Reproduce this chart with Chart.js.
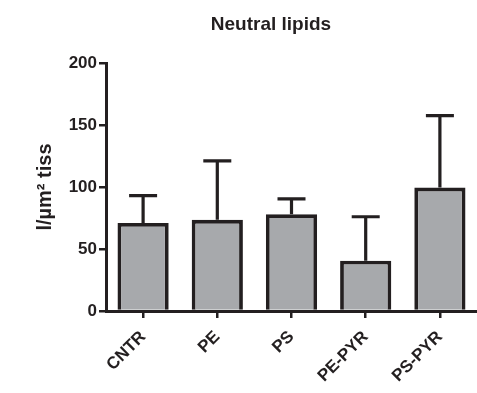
<!DOCTYPE html>
<html>
<head>
<meta charset="utf-8">
<script src="https://cdn.jsdelivr.net/npm/chart.js@4.4.1/dist/chart.umd.min.js"></script>
<style>
  html, body { margin: 0; padding: 0; background: #fff; }
  #wrap { width: 477px; height: 393px; }
</style>
</head>
<body>
<div id="wrap"><canvas id="c" width="477" height="393"></canvas></div>
<script>
const categories = ['CNTR', 'PE', 'PS', 'PE-PYR', 'PS-PYR'];
const means = [71, 73.5, 78, 40.5, 99.5];
const upperErrors = [22, 47.5, 12.5, 35.5, 58];
const yTicks = [0, 50, 100, 150, 200];

const INK = '#231f20';
const FONT = "'Liberation Sans', Arial, sans-serif";

// Upward-only error bars with a cap, drawn from each bar's mean
const errorBars = {
  id: 'errorBars',
  beforeDatasetsDraw(chart) {
    const ctx = chart.ctx;
    const x = chart.scales.x, y = chart.scales.y;
    ctx.save();
    ctx.strokeStyle = INK;
    ctx.lineWidth = 3.2;
    ctx.lineCap = 'butt';
    means.forEach((m, i) => {
      const cx = x.getPixelForValue(i);
      const y0 = y.getPixelForValue(m);
      const y1 = y.getPixelForValue(m + upperErrors[i]);
      ctx.beginPath();
      ctx.moveTo(cx, y0);
      ctx.lineTo(cx, y1);
      ctx.moveTo(cx - 14, y1);
      ctx.lineTo(cx + 14, y1);
      ctx.stroke();
    });
    ctx.restore();
  }
};

// Chart heading
const heading = {
  id: 'heading',
  afterDraw(chart) {
    const ctx = chart.ctx;
    ctx.save();
    ctx.fillStyle = INK;
    ctx.font = 'bold 19px ' + FONT;
    ctx.textAlign = 'center';
    ctx.textBaseline = 'middle';
    ctx.fillText('Neutral lipids', 271, 25);
    ctx.restore();
  }
};

new Chart(document.getElementById('c'), {
  type: 'bar',
  data: {
    labels: categories,
    datasets: [{
      data: means,
      backgroundColor: '#a7a9ac',
      borderColor: INK,
      borderWidth: 3.8,
      borderSkipped: 'bottom',
      categoryPercentage: 1,
      barPercentage: 0.69
    }]
  },
  options: {
    responsive: false,
    animation: false,
    devicePixelRatio: 1,
    layout: { padding: { top: 63, right: 0, left: 33, bottom: 0 } },
    plugins: { legend: { display: false }, title: { display: false }, tooltip: { enabled: false } },
    scales: {
      x: {
        offset: true,
        border: { display: true, color: INK, width: 3 },
        grid: { offset: false, drawOnChartArea: false, drawTicks: true, tickLength: 7, color: INK, lineWidth: 2.5 },
        ticks: {
          color: INK,
          font: { family: FONT, size: 17, weight: 'bold' },
          maxRotation: 45, minRotation: 45,
          padding: 9
        },
        afterFit(scale) { scale.height = 82; }
      },
      y: {
        min: 0, max: 200,
        afterBuildTicks(scale) { scale.ticks = yTicks.map(v => ({ value: v })); },
        border: { display: true, color: INK, width: 3 },
        grid: { drawOnChartArea: false, drawTicks: true, tickLength: 7, color: INK, lineWidth: 2.5 },
        ticks: {
          color: INK,
          font: { family: FONT, size: 17, weight: 'bold' },
          padding: 2
        },
        title: {
          display: true,
          text: 'l/µm² tiss',
          color: INK,
          font: { family: FONT, size: 20, weight: 'bold' },
          padding: { top: 0, bottom: 0 }
        },
        afterFit(scale) { scale.width = 73; }
      }
    }
  },
  plugins: [errorBars, heading]
});
</script>
</body>
</html>
